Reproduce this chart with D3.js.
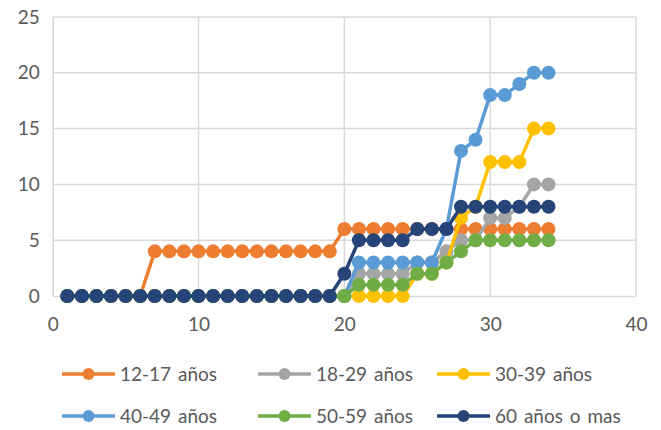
<!DOCTYPE html>
<html><head><meta charset="utf-8">
<script src="https://cdn.jsdelivr.net/npm/d3@7"></script>
<style>
html,body{margin:0;padding:0;background:#fff;}
svg{display:block;font-family:Lato,"Open Sans",sans-serif;}
</style></head>
<body><svg id="chart" width="661" height="430"></svg>
<script>
const days = [1,2,3,4,5,6,7,8,9,10,11,12,13,14,15,16,17,18,19,20,21,22,23,24,25,26,27,28,29,30,31,32,33,34];
const s12_17 = [0,0,0,0,0,0,4,4,4,4,4,4,4,4,4,4,4,4,4,6,6,6,6,6,6,6,6,6,6,6,6,6,6,6];
const s18_29 = [0,0,0,0,0,0,0,0,0,0,0,0,0,0,0,0,0,0,0,0,2,2,2,2,3,3,4,5,5,7,7,8,10,10];
const s30_39 = [0,0,0,0,0,0,0,0,0,0,0,0,0,0,0,0,0,0,0,0,0,0,0,0,2,2,3,7,8,12,12,12,15,15];
const s40_49 = [0,0,0,0,0,0,0,0,0,0,0,0,0,0,0,0,0,0,0,0,3,3,3,3,3,3,6,13,14,18,18,19,20,20];
const s50_59 = [0,0,0,0,0,0,0,0,0,0,0,0,0,0,0,0,0,0,0,0,1,1,1,1,2,2,3,4,5,5,5,5,5,5];
const s60 = [0,0,0,0,0,0,0,0,0,0,0,0,0,0,0,0,0,0,0,2,5,5,5,5,6,6,6,8,8,8,8,8,8,8];
const seriesNames = ["12-17 años","18-29 años","30-39 años","40-49 años","50-59 años","60 años o mas"];
const seriesColors = ["#ED7D31","#A5A5A5","#FFC000","#5B9BD5","#70AD47","#264478"];
const xTicks = [0,10,20,30,40];
const yTicks = [0,5,10,15,20,25];

const seriesValues = [s12_17,s18_29,s30_39,s40_49,s50_59,s60];
const svg = d3.select("#chart");
const x = d3.scaleLinear().domain([0,40]).range([52.7,636]);
const y = d3.scaleLinear().domain([0,25]).range([296,17]);
const textColor = "#595959", gridColor = "#D9D9D9";

// gridlines
svg.append("g").selectAll("line").data(yTicks.filter(d=>d>0)).join("line")
  .attr("x1",x(0)).attr("x2",x(40)).attr("y1",d=>y(d)).attr("y2",d=>y(d))
  .attr("stroke",gridColor).attr("stroke-width",1.5);
svg.append("g").selectAll("line").data(xTicks.filter(d=>d>0)).join("line")
  .attr("x1",d=>x(d)).attr("x2",d=>x(d)).attr("y1",y(0)).attr("y2",y(25))
  .attr("stroke",gridColor).attr("stroke-width",1.5);

// axes
const xAxis = d3.axisBottom(x).tickValues(xTicks).tickSize(0).tickPadding(22);
const gx = svg.append("g").attr("transform",`translate(0,${y(0)})`).call(xAxis);
gx.select(".domain").attr("stroke",gridColor).attr("stroke-width",1.5);
gx.selectAll("text").attr("fill",textColor).attr("font-size",19).attr("font-family","Lato, sans-serif");
const yAxis = d3.axisLeft(y).tickValues(yTicks).tickSize(0).tickPadding(13);
const gy = svg.append("g").attr("transform",`translate(${x(0)},0)`).call(yAxis);
gy.select(".domain").attr("stroke",gridColor).attr("stroke-width",1.5);
gy.selectAll("text").attr("fill",textColor).attr("font-size",19).attr("font-family","Lato, sans-serif");

// series
const line = d3.line().x(d=>x(d.x)).y(d=>y(d.y));
seriesValues.forEach((vals,i)=>{
  const pts = days.map((d,j)=>({x:d,y:vals[j]}));
  const g = svg.append("g");
  g.append("path").attr("d",line(pts)).attr("fill","none")
    .attr("stroke",seriesColors[i]).attr("stroke-width",3.5).attr("stroke-linejoin","round");
  g.selectAll("circle").data(pts).join("circle")
    .attr("cx",d=>x(d.x)).attr("cy",d=>y(d.y)).attr("r",7)
    .attr("fill",seriesColors[i]);
});

// legend
const legX = [62,258,437], legY = [374,416];
seriesNames.forEach((name,i)=>{
  const lx = legX[i%3], ly = legY[Math.floor(i/3)];
  const g = svg.append("g");
  g.append("line").attr("x1",lx).attr("x2",lx+53).attr("y1",ly).attr("y2",ly)
    .attr("stroke",seriesColors[i]).attr("stroke-width",3.5);
  g.append("circle").attr("cx",lx+26.5).attr("cy",ly).attr("r",6).attr("fill",seriesColors[i]);
  g.append("text").attr("x",lx+58).attr("y",ly).attr("dy","0.35em")
    .attr("fill",textColor).attr("font-size",19).attr("word-spacing",2).text(name);
});
</script></body></html>
